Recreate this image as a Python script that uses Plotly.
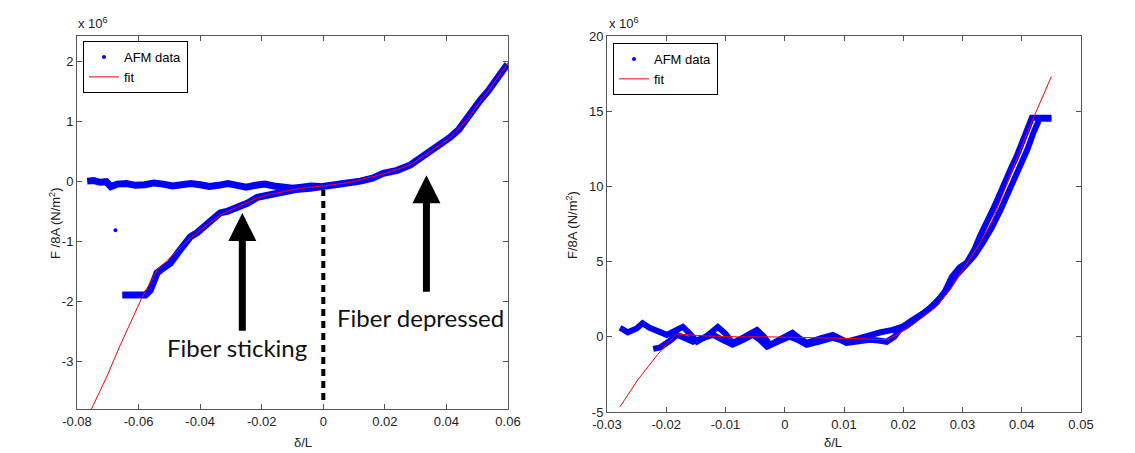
import plotly.graph_objects as go

# page body has an 8px margin, so positions are shifted by it
OFF = 8
FW, FH = 1135 - OFF, 453 - OFF


def px_x(p):
    return (p - OFF) / FW


def px_y(p):
    return 1 - (p - OFF) / FH


# ---- left panel data (y in units of 1e6 N/m^2) ----
l_app_x = [-0.0767, -0.0745, -0.0725, -0.0705, -0.069, -0.067, -0.064, -0.061, -0.058, -0.055,
           -0.052, -0.049, -0.046, -0.043, -0.040, -0.037, -0.034, -0.031, -0.028, -0.025,
           -0.022, -0.019, -0.016, -0.013, -0.010, -0.007, -0.004, -0.001]
l_app_y = [0.0, 0.01, -0.02, -0.01, -0.09, -0.05, -0.04, -0.07, -0.06, -0.03,
           -0.05, -0.08, -0.06, -0.04, -0.06, -0.09, -0.07, -0.04, -0.07, -0.10,
           -0.07, -0.05, -0.08, -0.11, -0.12, -0.10, -0.08, -0.09]

l_ret_x = [-0.0653, -0.0615, -0.0578, -0.0562, -0.054, -0.052, -0.0497, -0.047, -0.0445, -0.0432,
           -0.041, -0.039, -0.036, -0.0335, -0.031, -0.028, -0.0247, -0.0214, -0.0195, -0.0172,
           -0.013, -0.009, -0.0042, 0.0, 0.004, 0.0078, 0.012, 0.016, 0.0195, 0.024,
           0.0283, 0.032, 0.0357, 0.038, 0.0412, 0.044, 0.0468, 0.049, 0.051, 0.0535,
           0.0552, 0.0575, 0.0598]
l_ret_y = [-1.9, -1.9, -1.9, -1.82, -1.53, -1.45, -1.37, -1.18, -1.02, -0.93,
           -0.86, -0.77, -0.64, -0.53, -0.5, -0.45, -0.37, -0.27, -0.25, -0.2,
           -0.16, -0.14, -0.12, -0.08, -0.06, -0.03, 0.0, 0.05, 0.13, 0.18,
           0.27, 0.4, 0.55, 0.6, 0.73, 0.86, 1.07, 1.2, 1.35, 1.5,
           1.63, 1.8, 1.95]

l_out_x = [-0.0675]
l_out_y = [-0.82]

l_fit_x = [-0.0753, -0.0705, -0.0659, -0.0620, -0.0588, -0.0539, -0.0481, -0.0432, -0.0383, -0.0335,
           -0.0279, -0.0214, -0.0172, -0.0107, -0.0042, 0.0, 0.0088, 0.0195, 0.0283, 0.0357,
           0.0412, 0.0468, 0.051, 0.0552, 0.0601]
l_fit_y = [-3.80, -3.28, -2.73, -2.28, -1.93, -1.48, -1.20, -0.95, -0.75, -0.57,
           -0.43, -0.28, -0.22, -0.15, -0.10, -0.08, -0.02, 0.12, 0.27, 0.52,
           0.72, 1.03, 1.32, 1.62, 1.98]

l_xticks = [-0.08, -0.06, -0.04, -0.02, 0, 0.02, 0.04, 0.06]
l_xtext = ["-0.08", "-0.06", "-0.04", "-0.02", "0", "0.02", "0.04", "0.06"]
l_yticks = [-3, -2, -1, 0, 1, 2]
l_ytext = ["-3", "-2", "-1", "0", "1", "2"]

# ---- right panel data ----
r_app_x = [-0.0278, -0.0265, -0.025, -0.024, -0.0228, -0.021, -0.0199, -0.0185, -0.0172, -0.016,
           -0.0148, -0.013, -0.0113, -0.010, -0.0088, -0.0068, -0.0047, -0.0035, -0.0025, -0.0005,
           0.0013, 0.0025, 0.0037, 0.006, 0.0081, 0.0093, 0.0104, 0.0125, 0.0143, 0.0162,
           0.0182, 0.020, 0.0216, 0.0235, 0.0256, 0.027, 0.0282, 0.0295, 0.0307, 0.032,
           0.0329, 0.034, 0.0351, 0.0363, 0.0374, 0.0383, 0.0391, 0.040, 0.0408, 0.0417,
           0.043, 0.045]
r_app_y = [0.6, 0.3, 0.55, 0.9, 0.6, 0.35, 0.13, 0.4, 0.66, 0.2,
           -0.33, 0.1, 0.66, 0.2, -0.4, 0.0, 0.46, 0.0, -0.53, -0.1,
           0.27, -0.1, -0.4, -0.1, 0.13, -0.1, -0.33, -0.1, 0.13, 0.3,
           0.46, 0.7, 1.13, 1.6, 2.26, 3.0, 3.99, 4.6, 4.92, 5.8,
           6.65, 7.5, 8.44, 9.5, 10.6, 11.3, 11.97, 12.9, 13.76, 14.56,
           14.56, 14.56]

r_ret_x = [-0.0222, -0.021, -0.0195, -0.0182, -0.0168, -0.0155, -0.014, -0.0121, -0.0105, -0.0088,
           -0.007, -0.0054, -0.0042, -0.003, -0.001, 0.0008, 0.0022, 0.0037, 0.006, 0.0081,
           0.0093, 0.0104, 0.0125, 0.0143, 0.0158, 0.0172, 0.0185, 0.0194, 0.0205, 0.0216,
           0.023, 0.0245, 0.026, 0.0275, 0.029, 0.0305, 0.032, 0.0335, 0.035, 0.0365,
           0.038, 0.0395, 0.041, 0.042, 0.043, 0.045]
r_ret_y = [-0.8, -0.7, -0.3, 0.13, -0.1, -0.33, -0.1, 0.13, -0.2, -0.53,
           -0.2, 0.13, -0.2, -0.66, -0.3, 0.0, -0.2, -0.53, -0.3, -0.07,
           -0.2, -0.4, -0.3, -0.2, -0.25, -0.33, 0.0, 0.46, 0.7, 1.0,
           1.4, 1.9, 2.5, 3.2, 4.1, 4.8, 5.4, 6.3, 7.3, 8.5,
           9.8, 11.1, 12.5, 13.6, 14.5, 14.5]

r_fit_x = [-0.0278, -0.0248, -0.0215, -0.0195, -0.0182, -0.017, -0.013, -0.008, -0.003, 0.002,
           0.007, 0.012, 0.0172, 0.019, 0.0216, 0.024, 0.0256, 0.028, 0.030, 0.0329,
           0.035, 0.0385, 0.0418, 0.045]
r_fit_y = [-4.65, -2.86, -1.2, -0.3, 0.2, 0.15, 0.05, 0.0, 0.0, -0.03,
           -0.08, -0.12, -0.2, 0.15, 0.8, 1.5, 2.0, 3.2, 4.4, 6.2,
           7.7, 11.1, 14.4, 17.3]

r_xticks = [-0.03, -0.02, -0.01, 0, 0.01, 0.02, 0.03, 0.04, 0.05]
r_xtext = ["-0.03", "-0.02", "-0.01", "0", "0.01", "0.02", "0.03", "0.04", "0.05"]
r_yticks = [-5, 0, 5, 10, 15, 20]
r_ytext = ["-5", "0", "5", "10", "15", "20"]

BLUE = "rgb(0,0,255)"
RED = "rgb(255,0,0)"
AX = "#555555"
TXT = "#222222"
FONT = "Liberation Sans, Arial, sans-serif"

fig = go.Figure()

# left panel
fig.add_trace(go.Scatter(x=[None], y=[None], mode="markers", name="AFM data",
                         marker=dict(color=BLUE, size=4), legend="legend"))
fig.add_trace(go.Scatter(x=l_app_x, y=l_app_y, mode="lines", line=dict(color=BLUE, width=7),
                         showlegend=False))
fig.add_trace(go.Scatter(x=l_ret_x, y=l_ret_y, mode="lines", line=dict(color=BLUE, width=7),
                         showlegend=False))
fig.add_trace(go.Scatter(x=l_out_x, y=l_out_y, mode="markers", marker=dict(color=BLUE, size=4),
                         showlegend=False))
fig.add_trace(go.Scatter(x=l_fit_x, y=l_fit_y, mode="lines", name="fit",
                         line=dict(color=RED, width=1), legend="legend"))

# right panel
fig.add_trace(go.Scatter(x=[None], y=[None], mode="markers", name="AFM data", xaxis="x2", yaxis="y2",
                         marker=dict(color=BLUE, size=4), legend="legend2"))
fig.add_trace(go.Scatter(x=r_app_x, y=r_app_y, mode="lines", xaxis="x2", yaxis="y2",
                         line=dict(color=BLUE, width=6), showlegend=False))
fig.add_trace(go.Scatter(x=r_ret_x, y=r_ret_y, mode="lines", xaxis="x2", yaxis="y2",
                         line=dict(color=BLUE, width=6), showlegend=False))
fig.add_trace(go.Scatter(x=r_fit_x, y=r_fit_y, mode="lines", name="fit", xaxis="x2", yaxis="y2",
                         line=dict(color=RED, width=1), legend="legend2"))

axis_style = dict(showline=True, linecolor=AX, linewidth=1, mirror="ticks", ticks="inside",
                  ticklen=5, tickcolor=AX, showgrid=False, zeroline=False, automargin=False,
                  tickfont=dict(family=FONT, size=13, color=TXT))

legend_style = dict(bgcolor="white", bordercolor="black", borderwidth=1,
                    font=dict(family=FONT, size=13, color="black"),
                    xanchor="left", yanchor="top", tracegroupgap=0, itemwidth=30)

fig.update_layout(
    width=FW, height=FH,
    margin=dict(l=0, r=0, t=0, b=0, autoexpand=False),
    paper_bgcolor="white", plot_bgcolor="white",
    xaxis=dict(domain=[px_x(77), px_x(508)], range=[-0.08, 0.06], tickvals=l_xticks, ticktext=l_xtext,
               anchor="y", **axis_style),
    yaxis=dict(domain=[px_y(409), px_y(36)], range=[-3.8, 2.42], tickvals=l_yticks,
               ticktext=l_ytext, anchor="x", **axis_style),
    xaxis2=dict(domain=[px_x(607), px_x(1081)], range=[-0.03, 0.05], tickvals=r_xticks, ticktext=r_xtext,
                anchor="y2", **axis_style),
    yaxis2=dict(domain=[px_y(412), px_y(36)], range=[-5, 20], tickvals=r_yticks,
                ticktext=r_ytext, anchor="x2", **axis_style),
    legend=dict(x=px_x(83), y=px_y(41), **legend_style),
    legend2=dict(x=px_x(613), y=px_y(43), **legend_style),
)

# dotted line at zero in the left panel
fig.add_shape(type="line", xref="x", yref="y", x0=0, x1=0, y0=-3.65, y1=-0.15,
              line=dict(color="black", width=4, dash="7px,5px"))

ann_font = dict(family="Lato, sans-serif", size=24, color="#111111")
# arrows
fig.add_annotation(x=-0.0263, y=-0.53, ax=-0.0263, ay=-2.52, xref="x", yref="y", axref="x", ayref="y",
                   text="", showarrow=True, arrowhead=2, arrowwidth=7, arrowsize=0.8,
                   arrowcolor="black", standoff=0)
fig.add_annotation(x=0.0335, y=0.1, ax=0.0335, ay=-1.87, xref="x", yref="y", axref="x", ayref="y",
                   text="", showarrow=True, arrowhead=2, arrowwidth=7, arrowsize=0.8,
                   arrowcolor="black", standoff=0)
fig.add_annotation(x=-0.0279, y=-2.78, xref="x", yref="y", text="Fiber sticking", showarrow=False,
                   font=ann_font)
fig.add_annotation(x=0.0315, y=-2.27, xref="x", yref="y", text="Fiber depressed", showarrow=False,
                   font=ann_font)

lab_font = dict(family=FONT, size=13, color=TXT)
# exponent labels
fig.add_annotation(x=px_x(76), y=px_y(23), xref="paper", yref="paper", xanchor="left", yanchor="middle",
                   text="x 10<sup>6</sup>", showarrow=False, font=lab_font)
fig.add_annotation(x=px_x(607), y=px_y(23), xref="paper", yref="paper", xanchor="left", yanchor="middle",
                   text="x 10<sup>6</sup>", showarrow=False, font=lab_font)
# axis titles
fig.add_annotation(x=px_x(292), y=px_y(442), xref="paper", yref="paper", text="δ/L",
                   yanchor="middle", showarrow=False, font=lab_font)
fig.add_annotation(x=px_x(844), y=px_y(442), xref="paper", yref="paper", text="δ/L",
                   yanchor="middle", showarrow=False, font=lab_font)
fig.add_annotation(x=px_x(45), y=px_y(223), xref="paper", yref="paper", text="F /8A (N/m<sup>2</sup>)",
                   textangle=-90, showarrow=False, font=lab_font)
fig.add_annotation(x=px_x(572), y=px_y(225), xref="paper", yref="paper", text="F/8A (N/m<sup>2</sup>)",
                   textangle=-90, showarrow=False, font=lab_font)

fig.write_html("out.html")
